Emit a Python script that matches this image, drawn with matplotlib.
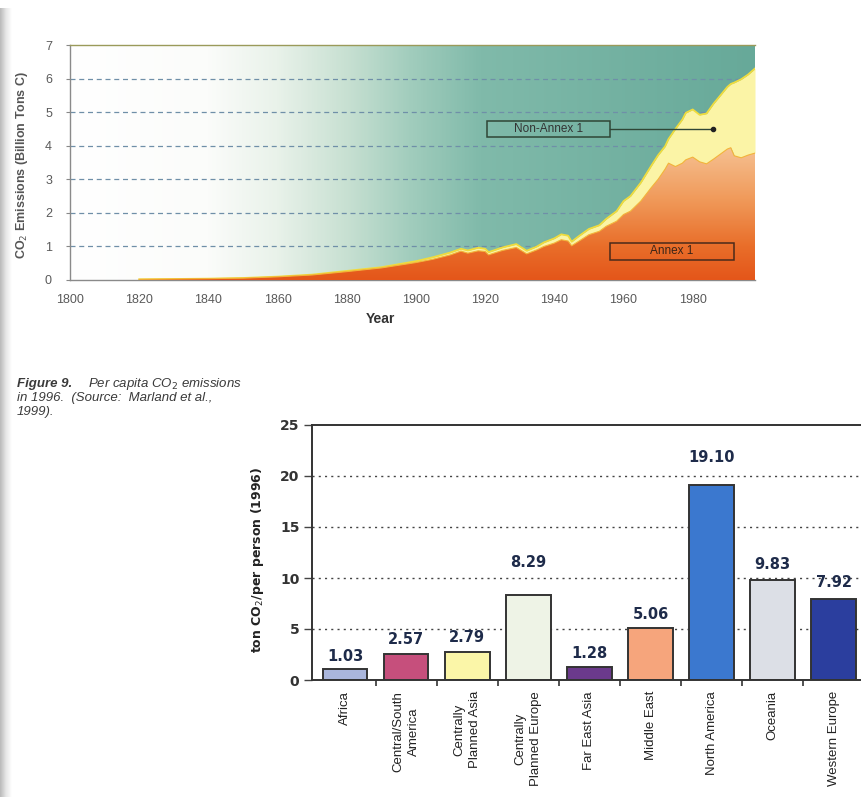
import numpy as np
import matplotlib
matplotlib.use("Agg")
import matplotlib.pyplot as plt
from matplotlib.colors import LinearSegmentedColormap
from matplotlib.patches import Rectangle, PathPatch
from matplotlib.path import Path

# ---------------- data: global CO2 emissions (billion tons C) ----------------
years = [1820, 1830, 1840, 1850, 1860, 1870, 1880, 1890, 1900, 1905, 1910, 1913,
         1915, 1918, 1920, 1921, 1925, 1929, 1932, 1935, 1937, 1940, 1942, 1944,
         1945, 1947, 1950, 1953, 1955, 1958, 1960, 1962, 1965, 1968, 1970, 1972,
         1973, 1975, 1977, 1978, 1980, 1982, 1984, 1986, 1988, 1990, 1991, 1992,
         1994, 1996, 1998]
annex1 = [0.02, 0.03, 0.04, 0.055, 0.095, 0.15, 0.25, 0.36, 0.52, 0.62, 0.75, 0.86,
          0.80, 0.87, 0.85, 0.75, 0.88, 0.97, 0.78, 0.90, 1.00, 1.10, 1.20, 1.16,
          1.02, 1.15, 1.35, 1.45, 1.60, 1.75, 1.95, 2.05, 2.35, 2.75, 3.00, 3.30,
          3.48, 3.38, 3.48, 3.58, 3.66, 3.52, 3.46, 3.60, 3.75, 3.90, 3.94, 3.70,
          3.64, 3.72, 3.78]
non_annex1 = [0.0, 0.0, 0.0, 0.005, 0.005, 0.01, 0.02, 0.02, 0.04, 0.06, 0.07, 0.07,
              0.08, 0.09, 0.08, 0.08, 0.09, 0.10, 0.09, 0.10, 0.12, 0.14, 0.16, 0.16,
              0.12, 0.15, 0.17, 0.18, 0.22, 0.30, 0.40, 0.45, 0.55, 0.65, 0.72, 0.68,
              0.72, 1.12, 1.30, 1.40, 1.42, 1.40, 1.50, 1.65, 1.75, 1.85, 1.90, 2.18,
              2.34, 2.40, 2.52]
year_ticks = [1800, 1820, 1840, 1860, 1880, 1900, 1920, 1940, 1960, 1980]
emission_ticks = [0, 1, 2, 3, 4, 5, 6, 7]

# ---------------- data: per capita CO2 emissions, 1996 ----------------
regions = ["Africa", "Central/South\nAmerica", "Centrally\nPlanned Asia",
           "Centrally\nPlanned Europe", "Far East Asia", "Middle East",
           "North America", "Oceania", "Western Europe"]
per_capita = [1.03, 2.57, 2.79, 8.29, 1.28, 5.06, 19.10, 9.83, 7.92]
bar_colors = ["#aab6dc", "#c64f7c", "#fbf6a8", "#eef3e6", "#6b3a8c",
              "#f6a57c", "#3b78cf", "#dcdfe6", "#2b3e9e"]
label_lift = [13, 14, 14, 33, 13, 14, 28, 15, 17]   # pixels from bar top to value label
per_capita_ticks = [0, 5, 10, 15, 20, 25]

W, H = 861, 797
fig = plt.figure(figsize=(W / 100, H / 100), dpi=100)
fig.patch.set_facecolor("white")


def fx(px):
    return px / W


def fy(py):
    return 1 - py / H


# page-binding shadow on the left
shade = fig.add_axes([0, 0, fx(12), fy(8)])
shade.imshow(np.linspace(0, 1, 50)[None, :],
             cmap=LinearSegmentedColormap.from_list("sh", ["#b9b9b9", "#e6e6e6", "#ffffff"]),
             aspect="auto", extent=[0, 1, 0, 1])
shade.axis("off")

# ============================ top chart ============================
ax1 = fig.add_axes([fx(70), fy(280), fx(755 - 70), fy(45) - fy(280)])
x0, x1 = 1800, 1998
ax1.set_xlim(x0, x1)
ax1.set_ylim(0, 7)

bg_cmap = LinearSegmentedColormap.from_list(
    "bg", [(0.0, "#ffffff"), (0.2, "#fbfcfa"), (0.3, "#e9f2ea"),
           (0.4, "#c9e1d3"), (0.5, "#a0ccbc"), (0.6, "#80baaa"),
           (1.0, "#67a999")])
ax1.imshow(np.linspace(0, 1, 400)[None, :], cmap=bg_cmap, aspect="auto",
           extent=[x0, x1, 0, 7], zorder=0, interpolation="bicubic")

for v in emission_ticks[1:-1]:
    ax1.axhline(v, color="#6f8fa8", lw=0.9, ls=(0, (4, 3)), zorder=1)

yrs = np.array(years, dtype=float)
a1 = np.array(annex1)
total = a1 + np.array(non_annex1)

ax1.fill_between(yrs, a1, total, color="#fbf4a6", lw=0, zorder=2)
ax1.plot(yrs, total, color="#f0dc3c", lw=1.3, zorder=2.5)

# Annex 1 area: vertical orange-to-peach shading clipped to the stacked area
verts = np.vstack([np.column_stack([yrs, a1]),
                   np.column_stack([yrs[::-1], np.zeros_like(yrs)])])
clip = PathPatch(Path(verts), transform=ax1.transData, facecolor="none",
                 edgecolor="none")
ax1.add_patch(clip)
or_cmap = LinearSegmentedColormap.from_list(
    "or", [(0.0, "#e4561a"), (0.25, "#e96e2a"), (0.6, "#f09a5a"), (1.0, "#f6c294")])
im = ax1.imshow(np.linspace(1, 0, 200)[:, None], cmap=or_cmap, aspect="auto",
                extent=[x0, x1, 0, 4.0], zorder=3, interpolation="bicubic")
im.set_clip_path(clip)
ax1.plot(yrs, a1, color="#f3b43a", lw=0.8, zorder=3.5)

# region labels
ax1.add_patch(Rectangle((1920.5, 4.26), 35.5, 0.47, facecolor="none",
                        edgecolor="#2f4636", lw=1.1, zorder=5))
ax1.text(1938.2, 4.495, "Non-Annex 1", ha="center", va="center", fontsize=8.5,
         color="#333333", family="Liberation Sans", zorder=6)
ax1.plot([1956, 1986], [4.5, 4.5], color="#2f4636", lw=1.0, zorder=5)
ax1.plot([1986], [4.5], "o", color="#222222", ms=3, zorder=6)

ax1.add_patch(Rectangle((1956, 0.60), 36, 0.50, facecolor="none",
                        edgecolor="#4a2a1a", lw=1.1, zorder=5))
ax1.text(1974, 0.85, "Annex 1", ha="center", va="center", fontsize=8.5,
         color="#3a2418", family="Liberation Sans", zorder=6)

ax1.set_xticks(year_ticks)
ax1.set_xticklabels([str(y) for y in year_ticks], family="Liberation Sans",
                    fontsize=9, color="#5a5a5a")
ax1.set_yticks(emission_ticks)
ax1.set_yticklabels([str(v) for v in emission_ticks], family="Liberation Sans",
                    fontsize=9, color="#5a5a5a")
ax1.tick_params(axis="x", length=0, pad=10)
ax1.tick_params(axis="y", length=3, color="#888888", pad=10)
for s in ("left", "bottom"):
    ax1.spines[s].set_color("#8a8a8a")
    ax1.spines[s].set_linewidth(1.0)
ax1.spines["top"].set_color("#9a9a5a")
ax1.spines["top"].set_linewidth(1.0)
ax1.spines["right"].set_visible(False)

fig.text(fx(22), fy(165), "CO$_2$ Emissions (Billion Tons C)", rotation=90,
         ha="center", va="center", fontsize=9, fontweight="bold",
         color="#555555", family="Liberation Sans")
fig.text(fx(380), fy(319), "Year", ha="center", va="center", fontsize=10,
         fontweight="bold", color="#333333", family="Liberation Sans")

# caption
cap = dict(fontsize=9.5, color="#3a3a3a", family="Liberation Sans", style="italic",
           va="baseline")
fig.text(fx(17), fy(387), "Figure 9.", fontweight="bold", **cap)
fig.text(fx(88), fy(387), "Per capita CO$_2$ emissions", **cap)
fig.text(fx(17), fy(401), "in 1996.  (Source:  Marland et al.,", **cap)
fig.text(fx(17), fy(415), "1999).", **cap)

# ============================ bottom chart ============================
step = 61.1
c0 = 345.0
left_px, right_px = 312.0, 883.0
ax2 = fig.add_axes([fx(left_px), fy(680), fx(right_px - left_px), fy(425) - fy(680)])
ax2.set_xlim((left_px - c0) / step, (right_px - c0) / step)
ax2.set_ylim(0, 25)

pos = np.arange(len(regions))
for v in per_capita_ticks[1:-1]:
    ax2.axhline(v, color="#444444", lw=1.0, ls=(0, (1.5, 3)), zorder=1)

bars = ax2.bar(pos, per_capita, width=0.73, color=bar_colors,
               edgecolor="#333333", linewidth=1.4, zorder=2)
for b, v, lift in zip(bars, per_capita, label_lift):
    ax2.annotate(f"{v:.2f}", (b.get_x() + b.get_width() / 2, v),
                 xytext=(0, lift), textcoords="offset pixels",
                 ha="center", va="center", fontsize=10.5, fontweight="bold",
                 color="#1e2b4a", zorder=4)

ax2.set_yticks(per_capita_ticks)
ax2.set_yticklabels([str(v) for v in per_capita_ticks], fontsize=10,
                    fontweight="bold", color="#333333")
ax2.tick_params(axis="y", length=6, width=1.0, color="#444444", pad=3)

ax2.set_xticks(pos[:-1] + 0.5)
ax2.set_xticklabels([])
ax2.tick_params(axis="x", which="major", length=4, width=1.2, color="#333333")
ax2.set_xticks(pos, minor=True)
ax2.set_xticklabels(regions, minor=True, rotation=90, fontsize=9.5,
                    family="Liberation Sans", color="#222222", ha="center",
                    va="top", multialignment="center", linespacing=1.4)
ax2.tick_params(axis="x", which="minor", length=0, pad=8)

for s in ("left", "bottom", "top"):
    ax2.spines[s].set_color("#333333")
    ax2.spines[s].set_linewidth(1.4)
ax2.spines["right"].set_visible(False)

fig.text(fx(258), fy(560), "ton CO$_2$/per person (1996)", rotation=90,
         ha="center", va="center", fontsize=9, fontweight="bold",
         color="#222222")

fig.savefig("out.png", dpi=100)
